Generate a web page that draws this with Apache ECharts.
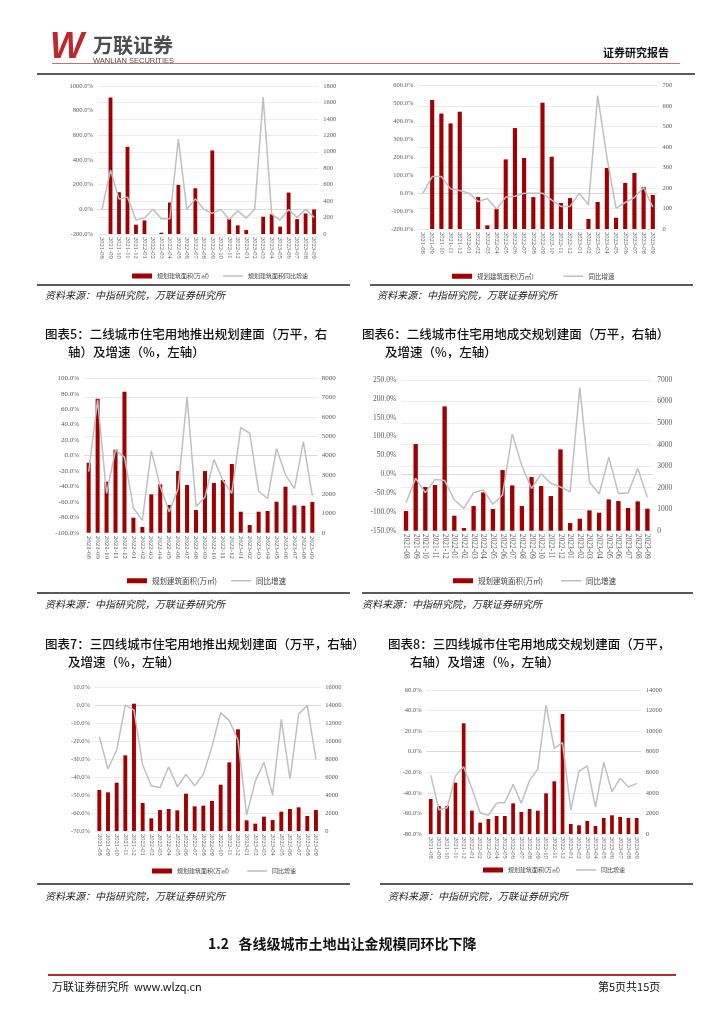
<!DOCTYPE html>
<html><head><meta charset="utf-8">
<script src="https://cdn.jsdelivr.net/npm/echarts@6/dist/echarts.min.js"></script>
<style>html,body{margin:0;padding:0;background:#fff}#c{width:724px;height:1024px}</style>
</head><body><div id="c"></div>
<script>
const categories = ['2021-08','2021-09','2021-10','2021-11','2021-12','2022-01','2022-02','2022-03','2022-04','2022-05','2022-06','2022-07','2022-08','2022-09','2022-10','2022-11','2022-12','2023-01','2023-02','2023-03','2023-04','2023-05','2023-06','2023-07','2023-08','2023-09'];

// chart 1: first-tier launched (top-left)
const c1Area = [0,1661,508,1060,113,165,0,16,383,597,0,556,0,1016,0,185,105,48,0,210,242,89,504,181,250,298];
const c1Yoy = [0,319,83,99,-87,-71,0,-76,-76,570,0,85,0,-33,0,-82,-12,-71,0,909,-38,-87,-2,-65,0,-65];
// chart 2: first-tier sold (top-right)
const c2Area = [0,630,564,516,573,0,156,18,98,340,493,347,156,617,353,127,151,0,49,132,298,55,225,274,205,166];
const c2Yoy = [0,93,93,24,15,0,-47,-30,-89,-22,-17,0,0,0,-39,-74,-74,0,-65,545,203,-84,-52,-24,32,-78];
// chart 3: second-tier launched
const c3Area = [3627,6943,2642,4301,7306,777,294,1986,2504,1434,3195,2470,1174,3195,2573,2729,3558,1088,397,1088,1123,1606,2383,1416,1399,1589];
const c3Yoy = [-21,72,-49,7,-2,-68,-84,6,-40,-73,-43,76,-66,-54,-5,-32,-49,36,29,-46,-56,9,-25,-43,18,-52];
// chart 4: second-tier sold
const c4Area = [913,4025,2028,2121,5774,697,124,1146,1780,1006,2817,2105,1146,2492,2074,1610,3777,356,557,944,836,1455,1378,1053,1362,1022];
const c4Yoy = [-76,-11,-49,-14,-17,-68,-91,-49,-42,-80,-55,107,22,-38,1,-24,-34,-47,230,-20,-53,45,-51,-50,15,-62];
// chart 5: third/fourth-tier launched
const c5Area = [4577,4316,5395,8447,14214,3126,1414,2344,2456,2307,4167,2753,2828,3349,5172,7665,11349,1191,819,1600,1228,2158,2456,2642,1674,2344];
const c5Yoy = [-17.3,-35.4,-24.8,0.3,-2.5,-33.2,-44.7,-45.8,-34.1,-45.3,-38.4,-44.7,-38.4,-22.9,-3.9,-8.4,-19.2,-61.1,-42.1,-31.7,-49.9,-7.7,-41.0,-4.7,0.0,-30.0];
// chart 6: third/fourth-tier sold
const c6Area = [3404,2723,2723,4992,10762,2269,1102,1459,1750,1750,2982,2139,2431,2269,3955,5122,11669,972,843,1264,778,1556,1815,1653,1556,1556];
const c6Yoy = [-22.7,-56.4,-54.5,-23.7,-14.6,-35.7,-59.3,-61.9,-49.9,-49.3,-31.8,-50.2,-27.9,-16.9,45.4,3.2,8.8,-56.4,-18.8,-13.9,-53.8,-10.4,-38.9,-25.9,-34.4,-30.8];

// axis ranges [min, max, interval]
const pctAxes = [[-200,1000,200],[-200,600,100],[-100,100,20],[-150,250,50],[-70,10,10],[-80,60,20]];
const areaAxes = [[0,1800,200],[0,700,100],[0,8000,1000],[0,7000,1000],[0,16000,2000],[0,14000,2000]];

const barName = '规划建筑面积(万㎡)';
const lineNames = ['规划建筑面积同比增速','同比增速','同比增速','同比增速','同比增速','同比增速'];
const areaData = [c1Area,c2Area,c3Area,c4Area,c5Area,c6Area];
const yoyData = [c1Yoy,c2Yoy,c3Yoy,c4Yoy,c5Yoy,c6Yoy];

const layout = [
  {grid:{left:97.8,top:86,width:220.5,height:148}, fs:6.5, lg:{left:127,top:268,fs:6,gap:14}},
  {grid:{left:418.4,top:85.7,width:239,height:143.3}, fs:6.5, lg:{left:447,top:268,fs:6.5,gap:30}},
  {grid:{left:84.2,top:378.3,width:232.6,height:154.4}, fs:7, lg:{left:122,top:572,fs:7.5,gap:14}},
  {grid:{left:401.2,top:380,width:251,height:150.7}, fs:7.5, lg:{left:448,top:572,fs:7.5,gap:18}},
  {grid:{left:95,top:687.7,width:225.3,height:143.3}, fs:6.5, lg:{left:147,top:863,fs:6,gap:18}},
  {grid:{left:426.6,top:690,width:214.2,height:144}, fs:6.5, lg:{left:478,top:862,fs:6,gap:16}}
];

const RED = '#A00000', GRAY = '#BFBFBF', LBL = '#595959';
const SERIF = 'Liberation Serif', CJK = 'Noto Sans CJK SC';
const LINE_ICON = 'path://M0,0 L40,0 L40,3 L0,3 Z';

const grid = [], xAxis = [], yAxis = [], series = [], legend = [];
layout.forEach((L, i) => {
  grid.push(Object.assign({containLabel:false}, L.grid));
  xAxis.push({type:'category', gridIndex:i, data:categories,
    axisLine:{show:true, lineStyle:{color:'#D9D9D9', width:1}}, axisTick:{show:false},
    axisLabel:{interval:0, rotate:-90, fontSize:L.fs, fontFamily:SERIF, color:LBL, margin:3}});
  const p = pctAxes[i], a = areaAxes[i];
  yAxis.push({type:'value', gridIndex:i, position:'left', min:p[0], max:p[1], interval:p[2],
    axisLine:{show:false}, axisTick:{show:false}, splitLine:{show:false},
    axisLabel:{fontSize:L.fs, fontFamily:SERIF, color:LBL, margin:5, formatter:v=>v.toFixed(1)+'%'}});
  yAxis.push({type:'value', gridIndex:i, position:'right', min:a[0], max:a[1], interval:a[2],
    axisLine:{show:false}, axisTick:{show:false},
    splitLine:{show:true, lineStyle:{color:'#E6E6E6', width:0.8}},
    axisLabel:{fontSize:L.fs, fontFamily:SERIF, color:LBL, margin:5, formatter:v=>String(v)}});
  series.push({type:'bar', name:barName, xAxisIndex:i, yAxisIndex:2*i+1, data:areaData[i],
    barWidth:'45%', itemStyle:{color:RED}, z:2, animation:false});
  series.push({type:'line', name:lineNames[i], xAxisIndex:i, yAxisIndex:2*i, data:yoyData[i],
    symbol:'none', lineStyle:{color:GRAY, width:1.5}, itemStyle:{color:GRAY}, z:3, animation:false});
  legend.push({left:L.lg.left, top:L.lg.top, orient:'horizontal', itemWidth:20, itemHeight:5, itemGap:L.lg.gap,
    symbolKeepAspect:true,
    data:[{name:barName, icon:'rect', itemStyle:{color:RED}}, {name:lineNames[i], icon:LINE_ICON, itemStyle:{color:GRAY}}],
    textStyle:{fontSize:L.lg.fs, fontFamily:CJK, color:'#404040'}, selectedMode:false});
});

const T = (x, y, text, style) => ({type:'text', left:x, top:y, style:Object.assign({text, fill:'#111', font:'13px "Noto Sans CJK SC"'}, style)});
const Ln = (x1, y1, x2, y2, color, w) => ({type:'line', shape:{x1,y1,x2,y2}, style:{stroke:color, lineWidth:w}});
const srcStyle = {font:'italic 10px "Noto Sans CJK SC"', fill:'#222'};
const titleStyle = {font:'500 12.5px "Noto Sans CJK SC"', fill:'#111'};

const graphic = [
  // header
  {type:'text', left:50, top:30, style:{text:'W', font:'italic bold 36px "Liberation Sans"', fill:'#C0272D'}},
  T(93, 35, '万联证券', {font:'bold 20px "Noto Sans CJK SC"', fill:'#4D4D4D'}),
  T(93, 57, 'WANLIAN SECURITIES', {font:'7.5px "Liberation Sans"', fill:'#4D4D4D'}),
  T(603, 47, '证券研究报告', {font:'bold 11px "Noto Sans CJK SC"', fill:'#111'}),
  Ln(52, 63.5, 680, 63.5, '#C8706E', 1.2),
  Ln(37, 74, 695, 74, '#222', 1.5),
  // separators + sources row 1
  Ln(37, 285, 350, 285, '#222', 1.5), Ln(370, 285, 693, 285, '#222', 1.5),
  T(45, 290, '资料来源：中指研究院，万联证券研究所', srcStyle),
  T(377, 290, '资料来源：中指研究院，万联证券研究所', srcStyle),
  // titles row 2
  T(45, 328, '图表5：二线城市住宅用地推出规划建面（万平，右', titleStyle),
  T(68, 346, '轴）及增速（%，左轴）', titleStyle),
  T(362, 328, '图表6：二线城市住宅用地成交规划建面（万平，右轴）', titleStyle),
  T(385, 346, '及增速（%，左轴）', titleStyle),
  Ln(37, 593, 350, 593, '#222', 1.5), Ln(362, 593, 693, 593, '#222', 1.5),
  T(45, 599, '资料来源：中指研究院，万联证券研究所', srcStyle),
  T(362, 599, '资料来源：中指研究院，万联证券研究所', srcStyle),
  // titles row 3
  T(45, 638, '图表7：三四线城市住宅用地推出规划建面（万平，右轴）', titleStyle),
  T(68, 656, '及增速（%，左轴）', titleStyle),
  T(388, 638, '图表8：三四线城市住宅用地成交规划建面（万平，', titleStyle),
  T(410, 656, '右轴）及增速（%，左轴）', titleStyle),
  Ln(37, 884, 350, 884, '#222', 1.5), Ln(380, 884, 693, 884, '#222', 1.5),
  T(45, 891, '资料来源：中指研究院，万联证券研究所', srcStyle),
  T(388, 891, '资料来源：中指研究院，万联证券研究所', srcStyle),
  // section heading and footer
  T(208, 937, '1.2   各线级城市土地出让金规模同环比下降', {font:'bold 14px "Noto Sans CJK SC"', fill:'#111'}),
  Ln(48, 975, 676, 975, '#C0272D', 2),
  T(52, 981, '万联证券研究所  www.wlzq.cn', {font:'11px "Noto Sans CJK SC"', fill:'#111'}),
  T(598, 981, '第5页共15页', {font:'11px "Noto Sans CJK SC"', fill:'#111'})
];

const chart = echarts.init(document.getElementById('c'), null, {renderer:'canvas'});
chart.setOption({backgroundColor:'#fff', animation:false, grid, xAxis, yAxis, series, legend, graphic});
</script></body></html>
